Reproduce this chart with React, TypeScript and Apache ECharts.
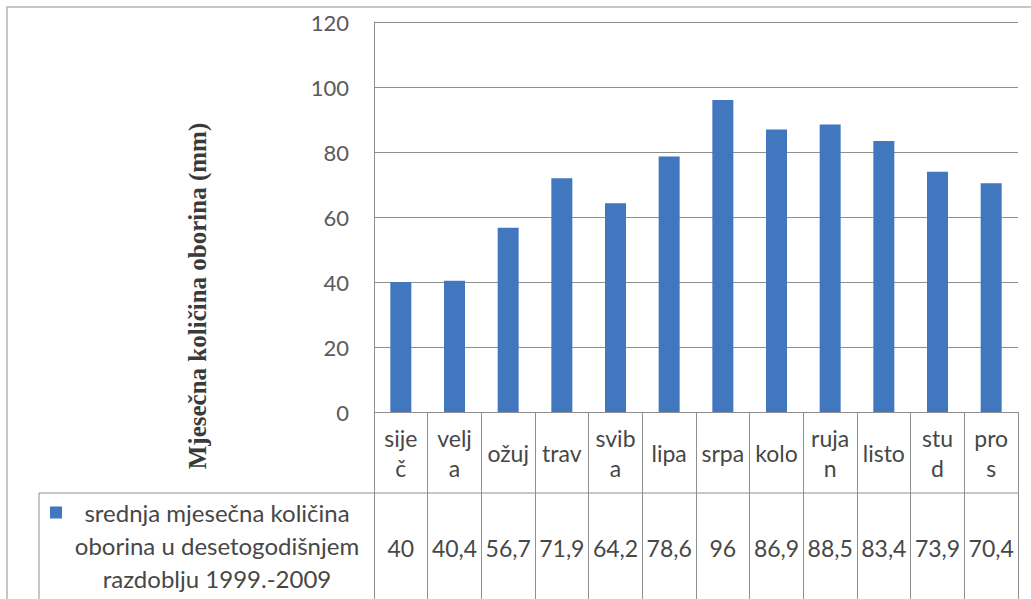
import React, { useEffect, useRef } from "react";
import * as echarts from "echarts";

const categoryLabels = ["sije\nč", "velj\na", "ožuj", "trav", "svib\na", "lipa", "srpa", "kolo", "ruja\nn", "listo", "stu\nd", "pro\ns"];
const values = [40, 40.4, 56.7, 71.9, 64.2, 78.6, 96, 86.9, 88.5, 83.4, 73.9, 70.4];
const seriesName = "srednja mjesečna količina oborina u desetogodišnjem razdoblju 1999.-2009";
const legendLines = ["srednja mjesečna količina", "oborina u desetogodišnjem", "razdoblju 1999.-2009"];
const yAxisTitle = "Mjesečna količina oborina (mm)";
const yMin = 0;
const yMax = 120;
const yStep = 20;

const GRID = "#8f8f8f";
const TEXT = "#474747";
const BAR = "#4177be";
const FONT = "Lato";
const FS = 23;

export default function App() {
  const ref = useRef<HTMLDivElement>(null);
  useEffect(() => {
    if (!ref.current) return;
    const chart = echarts.init(ref.current, null, { renderer: "svg" });
    const LH = 33;
    chart.setOption({
      animation: false,
      backgroundColor: "#ffffff",
      grid: { left: 374, right: 13, top: 22, bottom: 187, containLabel: false },
      legend: {
        show: true,
        left: 50,
        top: 496,
        padding: 0,
        selectedMode: false,
        itemWidth: 12,
        itemHeight: 2 * LH + 12,
        icon: "path://M0 0H12V12H0Z M0 77.9H0.1V78H0Z",
        formatter: () => legendLines.map((l) => "{c|" + l + "}").join("\n"),
        textStyle: {
          color: TEXT,
          fontFamily: FONT,
          fontSize: 24,
          lineHeight: LH,
          rich: { c: { width: 300, align: "center", fontFamily: FONT, fontSize: 24, color: TEXT, lineHeight: LH } },
        },
        data: [{ name: seriesName, itemStyle: { color: BAR } }],
      },
      xAxis: [
        {
          type: "category",
          data: categoryLabels,
          position: "bottom",
          axisLine: { show: true, lineStyle: { color: GRID, width: 1 } },
          axisTick: { show: true, alignWithLabel: false, interval: 0, length: 190, lineStyle: { color: GRID, width: 1 } },
          axisLabel: {
            interval: 0,
            margin: 41,
            verticalAlign: "middle",
            color: TEXT,
            fontFamily: FONT,
            fontSize: FS,
            lineHeight: 30,
          },
          splitLine: { show: false },
        },
        {
          type: "category",
          data: categoryLabels,
          position: "bottom",
          axisLine: { show: false },
          axisTick: { show: false },
          axisLabel: {
            interval: 0,
            margin: 136,
            verticalAlign: "middle",
            color: TEXT,
            fontFamily: FONT,
            fontSize: FS,
            formatter: (_v: string, i: number) => String(values[i]).replace(".", ","),
          },
          splitLine: { show: false },
        },
      ],
      yAxis: {
        type: "value",
        min: yMin,
        max: yMax,
        interval: yStep,
        axisLine: { show: true, lineStyle: { color: GRID, width: 1 } },
        axisTick: { show: false },
        axisLabel: { margin: 25, color: "#5a5a5a", fontFamily: FONT, fontSize: 22 },
        splitLine: { show: true, lineStyle: { color: GRID, width: 1 } },
      },
      series: [
        {
          name: seriesName,
          type: "bar",
          data: values,
          barWidth: 21,
          itemStyle: { color: BAR },
        },
      ],
      graphic: [
        {
          type: "rect",
          shape: { x: 7, y: 7, width: 1100, height: 700 },
          style: { fill: "none", stroke: "#b4b4b4", lineWidth: 1.5 },
          silent: true,
        },
        {
          type: "line",
          shape: { x1: 39, y1: 493, x2: 1018, y2: 493 },
          style: { stroke: GRID, lineWidth: 1 },
          silent: true,
        },
        {
          type: "line",
          shape: { x1: 39, y1: 493, x2: 39, y2: 610 },
          style: { stroke: GRID, lineWidth: 1 },
          silent: true,
        },
        {
          type: "text",
          x: 197,
          y: 296,
          rotation: Math.PI / 2,
          style: {
            text: yAxisTitle,
            fontFamily: "Liberation Serif",
            fontWeight: "bold",
            fontSize: 25,
            fill: "#3a3a3a",
            align: "center",
            verticalAlign: "middle",
          },
          silent: true,
        },
      ],
    });
    return () => chart.dispose();
  }, []);
  return <div ref={ref} style={{ position: "absolute", left: 0, top: 0, width: 1031, height: 599 }} />;
}
